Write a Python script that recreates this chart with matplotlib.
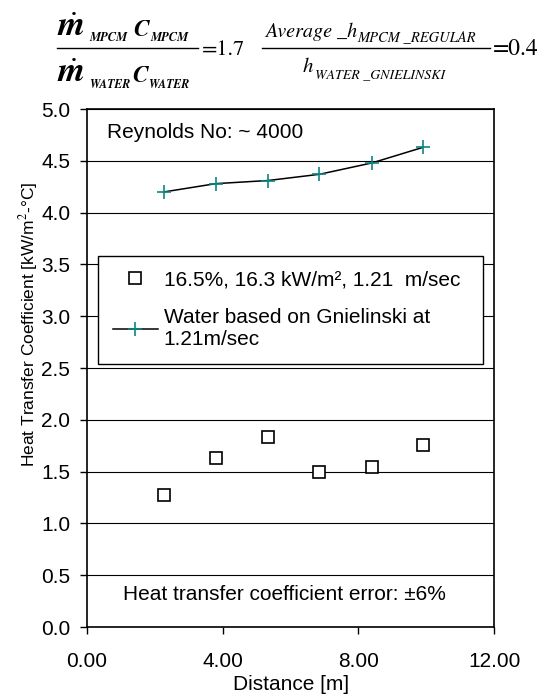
import matplotlib
matplotlib.use("Agg")
import matplotlib.pyplot as plt
from matplotlib.lines import Line2D
from matplotlib.ticker import FormatStrFormatter, MultipleLocator

plt.rcParams["font.family"] = ["Liberation Sans", "DejaVu Sans"]
plt.rcParams["mathtext.fontset"] = "stix"

# %% DATA
distance = [2.27, 3.80, 5.33, 6.85, 8.40, 9.90]
h_mpcm = [1.27, 1.63, 1.83, 1.50, 1.54, 1.76]
h_water = [4.20, 4.28, 4.31, 4.37, 4.48, 4.63]

label_mpcm = "16.5%, 16.3 kW/m\u00b2, 1.21  m/sec"
label_water = "Water based on Gnielinski at\n1.21m/sec"

W, H = 554, 699

# %% FIGURE
fig = plt.figure(figsize=(W / 100, H / 100), dpi=100)
ax = fig.add_axes([0.157, 0.103, 0.735, 0.741])

ax.yaxis.grid(True, color="black", linewidth=0.8)
ax.set_axisbelow(True)

ax.plot(distance, h_mpcm, linestyle="none", marker="s", markersize=9,
        markerfacecolor="white", markeredgecolor="black", markeredgewidth=1.2,
        label=label_mpcm, zorder=3)
ax.plot(distance, h_water, color="black", linewidth=1.1, marker="+",
        markersize=10, markeredgecolor="#0e8585", markeredgewidth=1.2,
        label=label_water, zorder=3)

ax.set_xlim(0, 12)
ax.set_ylim(0, 5)
ax.xaxis.set_major_locator(MultipleLocator(4))
ax.yaxis.set_major_locator(MultipleLocator(0.5))
ax.xaxis.set_major_formatter(FormatStrFormatter("%.2f"))
ax.yaxis.set_major_formatter(FormatStrFormatter("%.1f"))
ax.tick_params(direction="out", length=5, width=1, labelsize=15, colors="black")
ax.tick_params(axis="x", pad=13)
ax.tick_params(axis="y", pad=7)
for s in ax.spines.values():
    s.set_linewidth(1.2)

ax.set_xlabel("Distance [m]", fontsize=15, labelpad=3)
ax.set_ylabel("Heat Transfer Coefficient [kW/m$^2$-\u00b0C]", fontsize=12.5)
ax.yaxis.set_label_coords(-0.115, 0.585)

ax.text(0.049, 0.954, "Reynolds No: ~ 4000", transform=ax.transAxes,
        fontsize=15, ha="left", va="center")
ax.text(0.486, 0.062, "Heat transfer coefficient error: \u00b16%",
        transform=ax.transAxes, fontsize=15, ha="center", va="center")

leg = ax.legend(loc="upper left", bbox_to_anchor=(0.027, 0.494, 0.946, 0.222),
                mode="expand", fontsize=15,
                frameon=True, fancybox=False, framealpha=1, edgecolor="black",
                labelspacing=0.9, handlelength=2.2, handletextpad=0.25,
                borderpad=0.7, borderaxespad=0)
leg.get_frame().set_linewidth(1.0)

# %% FORMULAS ABOVE THE PLOT (built piece by piece, pixel positions from the top)
def ftext(x, y, s, size, style="normal", weight="normal", **kw):
    fig.text(x / W, 1 - y / H, s, fontsize=size, family="STIXGeneral",
             style=style, weight=weight, va="baseline", ha="left", **kw)

def fline(x0, x1, y):
    fig.add_artist(Line2D([x0 / W, x1 / W], [1 - y / H, 1 - y / H],
                          transform=fig.transFigure, color="black", linewidth=1.0))

# mass flow * heat capacity ratio
ftext(57, 36, r"$\dot{\mathbfit{m}}$", 25)
ftext(89, 41, "MPCM", 9, "italic", "bold")
ftext(133, 36, "C", 17, "italic", "bold")
ftext(150, 41, "MPCM", 9, "italic", "bold")
fline(57, 198, 48)
ftext(57, 82, r"$\dot{\mathbfit{m}}$", 25)
ftext(89, 88, "WATER", 8.5, "italic", "bold")
ftext(132, 82, "C", 17, "italic", "bold")
ftext(148, 88, "WATER", 8.5, "italic", "bold")
ftext(202, 55, "=1.7", 16)

# heat transfer coefficient ratio
ftext(265, 37, "Average _h", 14.5, "italic")
ftext(357, 41, "MPCM _REGULAR", 10.5, "italic")
fline(262, 490, 48)
ftext(303, 72, "h", 15, "italic")
ftext(315, 78, "WATER _GNIELINSKI", 10, "italic")
ftext(493, 55, "=0.4", 17)

fig.savefig("out.png", dpi=100)
